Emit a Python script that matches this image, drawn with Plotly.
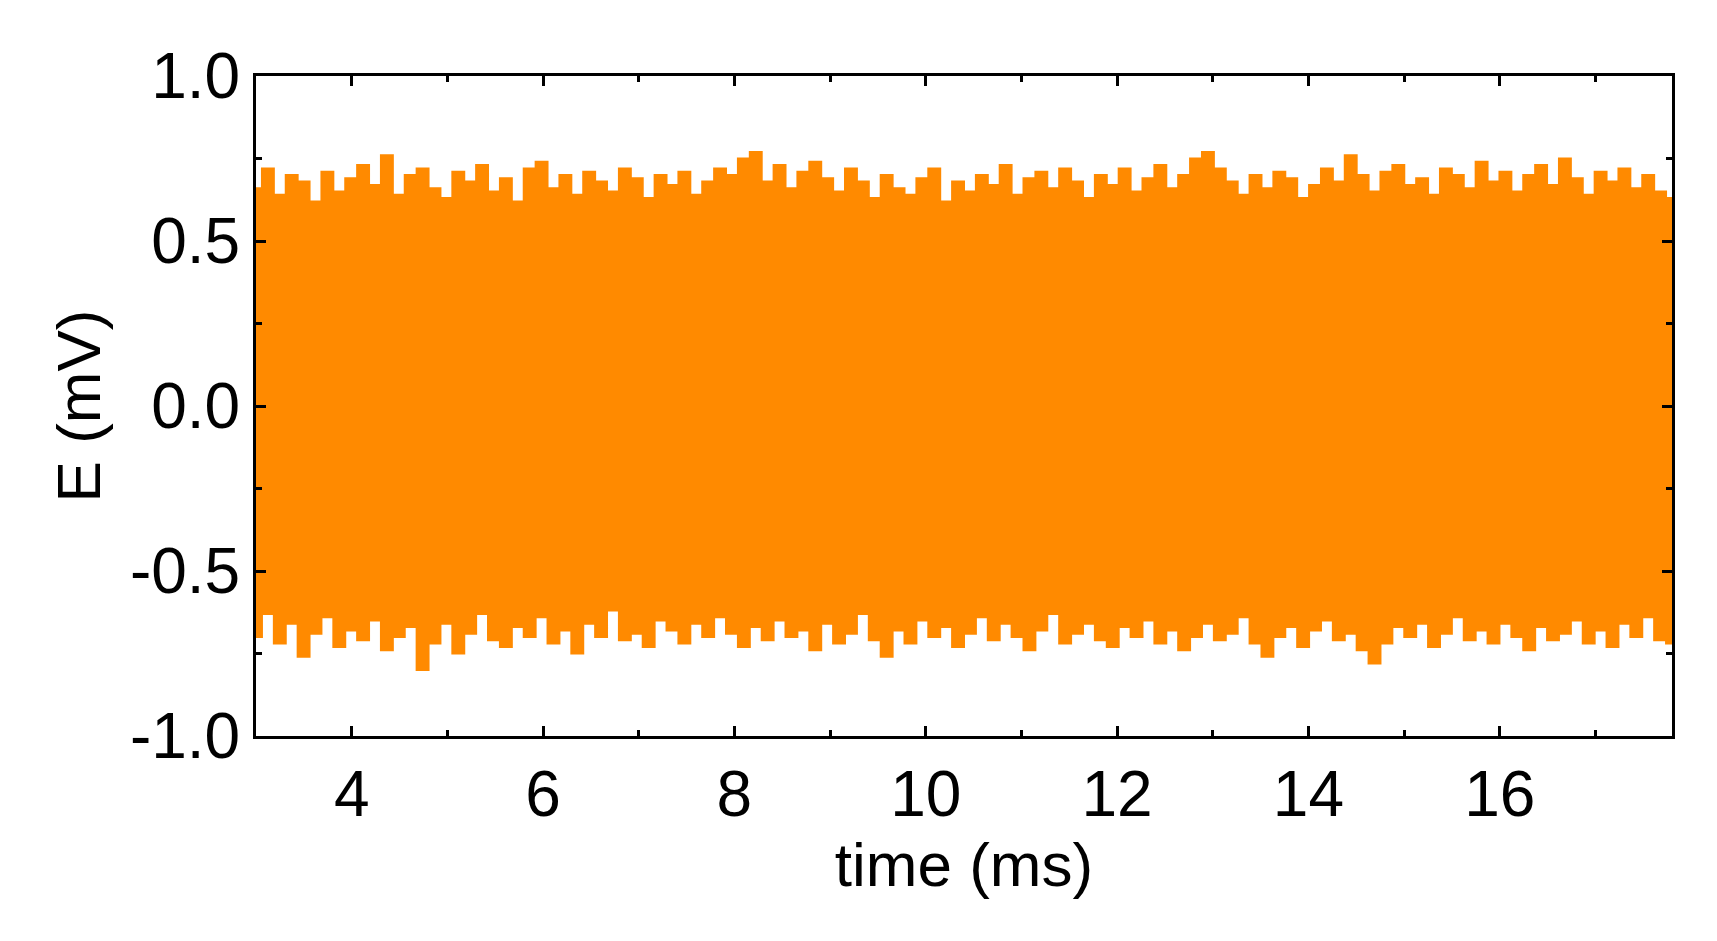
import numpy as np
import plotly.graph_objects as go

# peak envelope of the signal (mV), evenly spaced from 3.0 to 17.8 ms
top_peaks = [0.66, 0.72, 0.64, 0.70, 0.68, 0.62, 0.71, 0.65, 0.69, 0.73, 0.67, 0.76, 0.64, 0.70,
             0.72, 0.66, 0.63, 0.71, 0.68, 0.73, 0.65, 0.69, 0.62, 0.72, 0.74, 0.66, 0.70, 0.64,
             0.71, 0.68, 0.65, 0.72, 0.69, 0.63, 0.70, 0.67, 0.71, 0.64, 0.68, 0.72, 0.70, 0.75,
             0.77, 0.68, 0.73, 0.66, 0.71, 0.74, 0.69, 0.65, 0.72, 0.68, 0.63, 0.70, 0.66, 0.64,
             0.69, 0.72, 0.62, 0.68, 0.65, 0.70, 0.67, 0.73, 0.64, 0.69, 0.71, 0.66, 0.72, 0.68,
             0.63, 0.70, 0.67, 0.72, 0.65, 0.69, 0.73, 0.66, 0.70, 0.75, 0.77, 0.72, 0.68, 0.64,
             0.70, 0.66, 0.71, 0.69, 0.63, 0.67, 0.72, 0.68, 0.76, 0.70, 0.65, 0.71, 0.73, 0.67,
             0.69, 0.64, 0.72, 0.70, 0.66, 0.74, 0.68, 0.71, 0.65, 0.70, 0.73, 0.67, 0.75, 0.69,
             0.64, 0.71, 0.68, 0.72, 0.66, 0.70, 0.65, 0.63]
bottom_peaks = [-0.70, -0.63, -0.72, -0.66, -0.76, -0.69, -0.64, -0.73, -0.68, -0.71, -0.65, -0.74,
                -0.70, -0.67, -0.80, -0.72, -0.66, -0.75, -0.69, -0.63, -0.71, -0.73, -0.67, -0.70,
                -0.64, -0.72, -0.68, -0.75, -0.66, -0.70, -0.62, -0.71, -0.69, -0.73, -0.65, -0.68,
                -0.72, -0.66, -0.70, -0.64, -0.69, -0.73, -0.67, -0.71, -0.65, -0.70, -0.68, -0.74,
                -0.66, -0.72, -0.69, -0.63, -0.71, -0.76, -0.68, -0.72, -0.65, -0.70, -0.67, -0.73,
                -0.69, -0.64, -0.71, -0.66, -0.70, -0.74, -0.68, -0.63, -0.72, -0.69, -0.66, -0.71,
                -0.73, -0.67, -0.70, -0.65, -0.72, -0.68, -0.74, -0.70, -0.66, -0.71, -0.69, -0.64,
                -0.72, -0.76, -0.70, -0.67, -0.73, -0.68, -0.65, -0.71, -0.69, -0.74, -0.78, -0.72,
                -0.67, -0.70, -0.66, -0.73, -0.69, -0.64, -0.71, -0.68, -0.72, -0.66, -0.70, -0.74,
                -0.67, -0.71, -0.69, -0.65, -0.72, -0.68, -0.73, -0.66, -0.70, -0.64, -0.71, -0.72]

y_ticks = [-1.0, -0.5, 0.0, 0.5, 1.0]
y_labels = ["-1.0", "-0.5", "0.0", "0.5", "1.0"]

t = np.linspace(3.0, 17.8, len(top_peaks))
orange = "#FF8A00"

fig = go.Figure()
fig.add_trace(go.Scatter(x=t, y=bottom_peaks, mode="lines", line=dict(color=orange, width=2, shape="hvh")))
fig.add_trace(go.Scatter(x=t, y=top_peaks, mode="lines", fill="tonexty", fillcolor=orange,
                         line=dict(color=orange, width=2, shape="hvh")))

axis_common = dict(showline=True, linecolor="black", linewidth=3, mirror="ticks", ticks="inside",
                   ticklen=10, tickwidth=3, tickcolor="black", showgrid=False, zeroline=False,
                   tickfont=dict(size=64, color="black", family="Liberation Sans"),
                   title_font=dict(size=62, color="black", family="Liberation Sans"))
fig.update_xaxes(range=[3.0, 17.8], dtick=2, title_text="time (ms)", title_standoff=8,
                 minor=dict(ticks="inside", dtick=1, ticklen=6, tickwidth=3, tickcolor="black"),
                 **axis_common)
fig.update_yaxes(range=[-1.0, 1.0], tickvals=y_ticks, ticktext=y_labels, title_text="E (mV)",
                 title_standoff=10,
                 minor=dict(ticks="inside", dtick=0.25, ticklen=6, tickwidth=3, tickcolor="black"),
                 **axis_common)
fig.update_layout(width=1717, height=941, showlegend=False, paper_bgcolor="#fff", plot_bgcolor="#fff",
                  margin=dict(l=248, r=53, t=68, b=213))

fig.write_html("out.html")
